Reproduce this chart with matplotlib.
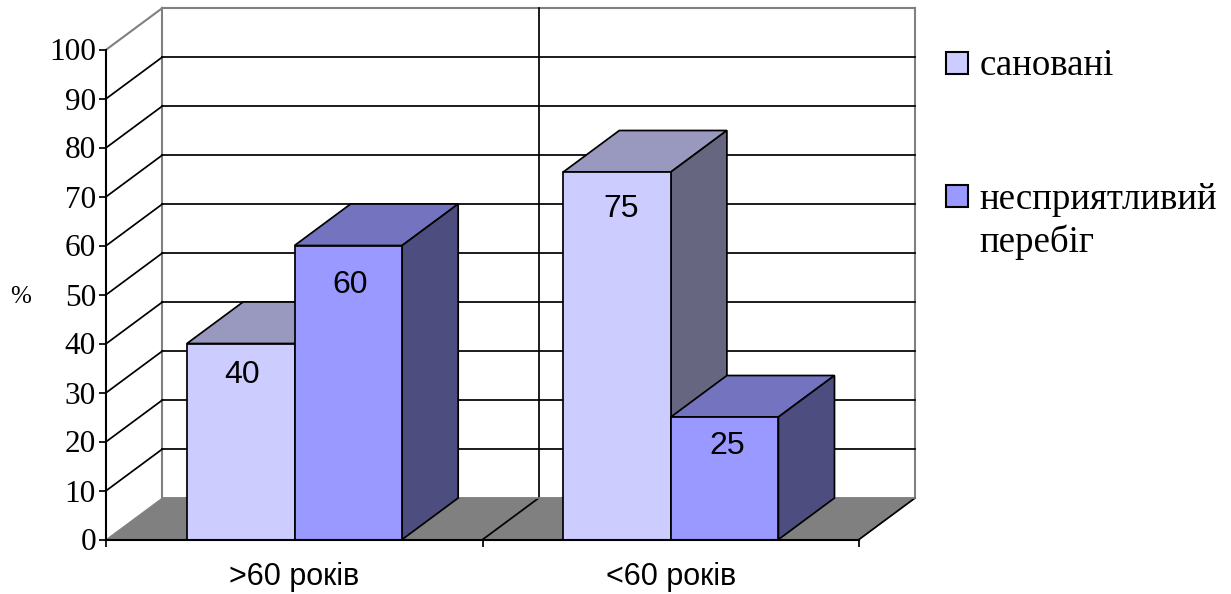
import matplotlib
matplotlib.use('Agg')
import matplotlib.pyplot as plt
from matplotlib.patches import Polygon, Rectangle

categories = ['>60 років', '<60 років']
treated = [40, 75]
adverse = [60, 25]
series_names = ['сановані', 'несприятливий\nперебіг']
y_ticks = list(range(0, 101, 10))

W, H = 1231, 594
DPI = 100

# depth of the fake 3D box, in data units
DEPTH_X = 56 / 376
DEPTH_Y = 41.5 / 4.9
BAR_W = 107.5 / 376
LW = 1.25

FRONT = ['#CCCCFF', '#9999FF']
TOP = ['#9999BF', '#7373BF']
SIDE = ['#666680', '#4D4D80']
SERIF = 'Liberation Serif'
SANS = 'Liberation Sans'

# how far each value label sits below its bar top, and sideways from the bar centre
LABEL_DROP = {(0, 0): 6.4, (1, 0): 8.0, (0, 1): 7.5, (1, 1): 5.9}
LABEL_SHIFT = {(0, 0): 0.004, (1, 0): 0.004, (0, 1): 0.012, (1, 1): 0.008}

fig = plt.figure(figsize=(W / DPI, H / DPI), dpi=DPI)
ax = fig.add_axes([106.4 / W, 1 - 539.5 / H, 752.6 / W, 490 / H])
ax.set_xlim(0, 2)
ax.set_ylim(0, 100)

for side in ['top', 'right']:
    ax.spines[side].set_visible(False)
for side in ['left', 'bottom']:
    ax.spines[side].set_linewidth(1.5)
    ax.spines[side].set_zorder(20)

# floor and back wall
ax.add_patch(Polygon([(0, 0), (2, 0), (2 + DEPTH_X, DEPTH_Y), (DEPTH_X, DEPTH_Y)],
                     fc='#808080', ec='#808080', lw=0.8, clip_on=False, zorder=1))
ax.plot([DEPTH_X, DEPTH_X], [DEPTH_Y, 100 + DEPTH_Y], color='#808080', lw=1.5, clip_on=False, zorder=2)
ax.plot([2 + DEPTH_X, 2 + DEPTH_X], [DEPTH_Y, 100 + DEPTH_Y], color='#808080', lw=1.5, clip_on=False, zorder=2)
ax.plot([DEPTH_X, 2 + DEPTH_X], [100 + DEPTH_Y] * 2, color='#808080', lw=1.5, clip_on=False, zorder=2)
ax.plot([0, DEPTH_X], [100, 100 + DEPTH_Y], color='#808080', lw=1.5, clip_on=False, zorder=2)
ax.plot([2, 2 + DEPTH_X], [0, DEPTH_Y], color='black', lw=LW, clip_on=False, zorder=2)
ax.plot([1, 1 + DEPTH_X], [0, DEPTH_Y], color='black', lw=LW, clip_on=False, zorder=2)
ax.plot([1 + DEPTH_X, 1 + DEPTH_X], [DEPTH_Y, 100 + DEPTH_Y], color='black', lw=LW, clip_on=False, zorder=2)

for v in y_ticks[1:-1]:
    ax.plot([0, DEPTH_X], [v, v + DEPTH_Y], color='black', lw=LW, clip_on=False, zorder=2)
    ax.plot([DEPTH_X, 2 + DEPTH_X], [v + DEPTH_Y] * 2, color='black', lw=LW, clip_on=False, zorder=2)
ax.plot([DEPTH_X, 2 + DEPTH_X], [DEPTH_Y] * 2, color='#808080', lw=LW, clip_on=False, zorder=2)


def draw_bar(x0, value, series, group, z):
    x1 = x0 + BAR_W
    ax.bar(x0, value, BAR_W, align='edge', color=FRONT[series], edgecolor='black', lw=LW, zorder=z + 0.2)
    ax.add_patch(Polygon([(x0, value), (x1, value), (x1 + DEPTH_X, value + DEPTH_Y), (x0 + DEPTH_X, value + DEPTH_Y)],
                         fc=TOP[series], ec='black', lw=LW, clip_on=False, zorder=z))
    ax.add_patch(Polygon([(x1, 0), (x1, value), (x1 + DEPTH_X, value + DEPTH_Y), (x1 + DEPTH_X, DEPTH_Y)],
                         fc=SIDE[series], ec='black', lw=LW, clip_on=False, zorder=z + 0.1))
    ax.text(x0 + BAR_W / 2 + LABEL_SHIFT[(series, group)], value - LABEL_DROP[(series, group)], str(value),
            ha='center', va='center', family=SANS, fontsize=23, zorder=z + 0.3)


for i in range(len(categories)):
    center = i + 0.5
    draw_bar(center - BAR_W, treated[i], 0, i, 5 + i * 2)
    draw_bar(center, adverse[i], 1, i, 6 + i * 2)

ax.set_yticks(y_ticks)
ax.set_yticklabels([str(v) for v in y_ticks], family=SERIF, fontsize=22.5)
ax.set_xticks([0, 1, 2])
ax.set_xticklabels([])
ax.tick_params(axis='both', length=5, width=1.25, pad=2.5)

for i, name in enumerate(categories):
    ax.text(i + 0.5, -7.6, name, ha='center', va='center', family=SANS, fontsize=22)

fig.text(21 / W, 1 - 297 / H, '%', ha='center', va='center', family=SERIF, fontsize=18)

# legend
for y, color in zip([52, 185], FRONT):
    fig.add_artist(Rectangle((946 / W, 1 - (y + 22) / H), 22 / W, 22 / H, transform=fig.transFigure,
                             fc=color, ec='black', lw=1.5))
fig.text(979.5 / W, 1 - 66 / H, series_names[0], ha='left', va='center', family=SERIF, fontsize=26.6)
first, second = series_names[1].split('\n')
fig.text(979.5 / W, 1 - 200 / H, first, ha='left', va='center', family=SERIF, fontsize=26.6)
fig.text(979.5 / W, 1 - 242 / H, second, ha='left', va='center', family=SERIF, fontsize=26.6)

fig.savefig('out.png', dpi=DPI)
